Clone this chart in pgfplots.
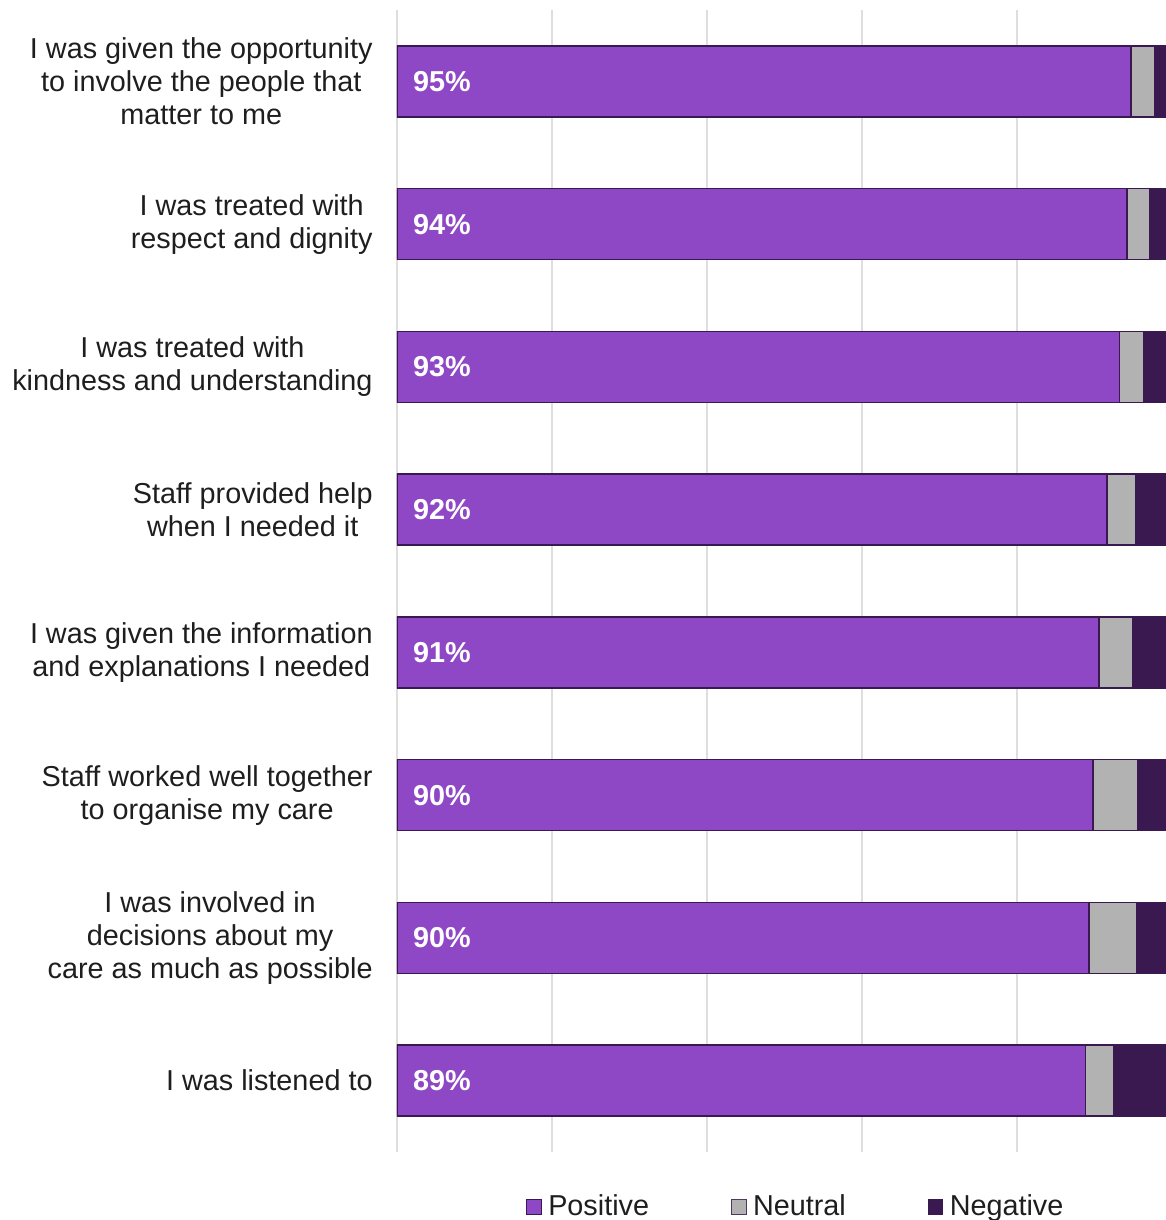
\documentclass[border=0pt]{standalone}
\usepackage{pgfplots}
\pgfplotsset{compat=1.18}
\usepackage{fontspec}
\setmainfont{Liberation Sans}
\definecolor{pos}{RGB}{142,72,198}
\definecolor{neu}{RGB}{178,178,178}
\definecolor{neg}{RGB}{58,24,80}
\definecolor{gridc}{RGB}{222,222,222}
\definecolor{txt}{RGB}{30,30,30}
\begin{document}
\begin{tikzpicture}
\useasboundingbox (-198.5pt,-34pt) rectangle (384.5pt,576pt);
\clip (-198.5pt,-34pt) rectangle (384.5pt,576pt);
\begin{axis}[
  at={(0pt,0pt)}, anchor=south west,
  scale only axis, width=387.5pt, height=571pt,
  xbar stacked, bar width=35.5pt,
  xmin=0, xmax=100, ymin=-0.5, ymax=7.5, y dir=reverse,
  xtick={0,20,...,100}, xticklabels={},
  xmajorgrids, grid style={color=gridc, line width=0.6pt},
  ytick={0,...,7},
  yticklabels={
    {I was given the opportunity\\to involve the people that\\matter to me},
    {I was treated with\\respect and dignity},
    {I was treated with\\kindness and understanding},
    {Staff provided help\\when I needed it},
    {I was given the information\\and explanations I needed},
    {Staff worked well together\\to organise my care},
    {I was involved in\\decisions about my\\care as much as possible},
    {I was listened to}},
  yticklabel style={align=center, font=\fontsize{14.4}{16.5}\selectfont, text=txt, inner sep=0pt, xshift=-12pt},
  major tick length=0pt,
  axis line style={draw=none},
  legend columns=3,
  legend style={at={(0.516,-0.0482)}, anchor=center, draw=none, fill=none,
    font=\fontsize{14.4}{16.5}\selectfont, text=txt,
    /tikz/every even column/.append style={column sep=39pt}},
]
\addplot[fill=pos, draw=neg, line width=0.7pt,
  legend image code/.code={\path[draw=none,fill=none] (0pt,0pt) -- (8.7pt,0pt);\draw[fill=pos, draw=neg, line width=0.5pt] (0pt,-3.6pt) rectangle (7.2pt,3.6pt);}]
  coordinates {(94.7,0) (94.2,1) (93.2,2) (91.6,3) (90.6,4) (89.8,5) (89.3,6) (88.8,7)};
\addlegendentry{Positive}
\addplot[fill=neu, draw=neg, line width=0.7pt,
  legend image code/.code={\path[draw=none,fill=none] (0pt,0pt) -- (8.7pt,0pt);\draw[fill=neu, draw=neg!70!gray, line width=0.5pt] (0pt,-3.6pt) rectangle (7.2pt,3.6pt);}]
  coordinates {(3.1,0) (2.9,1) (3.2,2) (3.7,3) (4.3,4) (5.8,5) (6.1,6) (3.7,7)};
\addlegendentry{Neutral}
\addplot[fill=neg, draw=neg, line width=0.7pt,
  legend image code/.code={\path[draw=none,fill=none] (0pt,0pt) -- (8.7pt,0pt);\draw[fill=neg, draw=neg, line width=0.5pt] (0pt,-3.6pt) rectangle (7.2pt,3.6pt);}]
  coordinates {(2.2,0) (2.9,1) (3.6,2) (4.7,3) (5.1,4) (4.4,5) (4.6,6) (7.5,7)};
\addlegendentry{Negative}
\end{axis}
\begin{axis}[
  at={(0pt,0pt)}, anchor=south west,
  scale only axis, width=387.5pt, height=571pt,
  xmin=0, xmax=100, ymin=-0.5, ymax=7.5, y dir=reverse,
  hide axis,
]
\addplot[only marks, mark=none, point meta=explicit symbolic, nodes near coords,
  every node near coord/.append style={anchor=west, xshift=4.5pt, yshift=0pt, text=white,
    font=\bfseries\fontsize{14.4}{16.5}\selectfont}]
  coordinates {(0,0) [95\%] (0,1) [94\%] (0,2) [93\%] (0,3) [92\%]
               (0,4) [91\%] (0,5) [90\%] (0,6) [90\%] (0,7) [89\%]};
\end{axis}
\end{tikzpicture}
\end{document}
